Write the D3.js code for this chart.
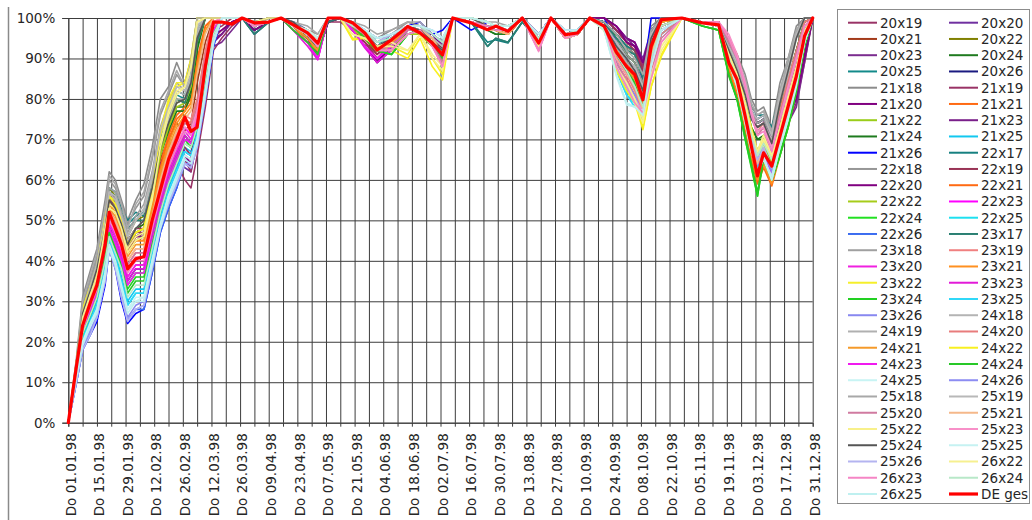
<!DOCTYPE html>
<html>
<head>
<meta charset="utf-8">
<script src="https://cdn.jsdelivr.net/npm/d3@7"></script>
<style>
  html, body { margin: 0; padding: 0; background: #fff; }
  svg { display: block; font-family: "DejaVu Sans", sans-serif; }
</style>
</head>
<body>
<svg id="chart" width="1032" height="520"></svg>
<script>
// Day offsets from 1 Jan 1998 at which the daily shares are sampled
const dayOffsets = [0,4,7,11,14,18,20,23,26,29,33,37,41,45,49,53,57,60,63,67,71,75,80,
  85,91,98,104,110,117,122,127,133,139,145,151,158,166,172,178,183,188,
  197,205,209,215,222,230,236,243,249,255,
  262,268,273,277,281,285,290,300,310,
  318,323,327,331,334,337,340,344,348,352,356,360,364];

// Grid cells (legend order)
const seriesNames = ["20x19","20x20","20x21","20x22","20x23","20x24","20x25","20x26",
  "21x18","21x19","21x20","21x21","21x22","21x23","21x24","21x25","21x26",
  "22x17","22x18","22x19","22x20","22x21","22x22","22x23","22x24","22x25","22x26",
  "23x17","23x18","23x19","23x20","23x21","23x22","23x23","23x24","23x25","23x26",
  "24x18","24x19","24x20","24x21","24x22","24x23","24x24","24x25","24x26",
  "25x18","25x19","25x20","25x21","25x22","25x23","25x24","25x25","25x26",
  "26x22","26x23","26x24","26x25"];

const seriesColors = ["#993366","#7030a0","#a33a1a","#808000","#7b2c8f","#1f7a1f","#138a8a","#1a1a80",
  "#8c8c8c","#993366","#800080","#ff6a13","#9acd1a","#7a1f8a","#1e7b1e","#12c8f0","#0000ff",
  "#168080","#969696","#993355","#800080","#ff6a13","#a6cc1a","#ff00ff","#22e022","#1ee0f0","#3a6cf0",
  "#2a7f72","#a0a0a0","#f08080","#f020e0","#ff9020","#f5ef2a","#e21ad8","#22d022","#30d8f8","#8888f0",
  "#b4b4b4","#b0b0b0","#e87c7c","#f59a2a","#f8f020","#f01aef","#28c828","#c8f4f4","#8c8cf2",
  "#a8a8a8","#b8b8b8","#d07aa0","#f5b88a","#f8f08a","#f890c8","#555555","#c6f2f2","#b4b4f0",
  "#f6f090","#f585c5","#b8e8c8","#bff0f0"];

// Share in percent for each grid cell at the sampled days
const seriesValues = [
 // 20x19
 [0,13,25,31,36,48,56,54,50,44,47,47,54,61,63,64,60,58,66,78,92,95,98,
  100,97,99,100,98,95,92,99,99,97,94,90,93,97,97,95,92,100,
  99,97,97,96,100,95,100,96,96,100,
  100,97,94,93,88,95,100,100,99,
  99,92,88,82,76,73,74,70,71,74,79,89,100],
 // 20x20
 [0,12,24,30,35,47,55,53,49,43,46,46,52,60,63,66,63,62,70,82,94,96,99,
  100,97,99,100,98,95,91,99,100,97,93,89,93,97,97,96,93,100,
  99,98,97,97,100,96,100,96,96,100,
  100,98,95,94,90,97,100,100,99,
  99,93,88,82,77,74,75,71,72,75,80,90,100],
 // 20x21
 [0,14,26,33,38,50,57,55,51,45,48,49,57,65,70,74,72,74,84,94,100,100,100,
  100,98,99,100,98,95,92,99,100,98,95,91,94,97,97,95,92,100,
  99,97,97,96,100,94,100,96,96,100,
  99,96,93,92,87,96,100,100,99,
  99,92,88,82,76,73,74,70,75,82,88,96,100],
 // 20x22
 [0,14,27,34,39,51,58,56,52,46,50,51,60,70,75,80,79,83,95,100,100,100,100,
  100,98,100,100,98,96,93,99,100,98,96,92,95,98,97,95,93,100,
  100,98,97,97,100,95,100,96,96,100,
  99,96,93,91,86,97,100,100,99,
  99,93,89,83,77,74,75,71,78,85,92,99,100],
 // 20x23
 [0,12,24,31,35,47,55,54,49,43,45,46,53,61,64,67,65,63,72,85,93,94,97,
  100,96,99,100,98,95,91,99,100,97,93,89,92,97,97,96,93,100,
  99,98,97,97,100,96,100,96,96,100,
  100,97,95,94,89,96,100,100,99,
  99,93,89,83,77,75,76,71,72,74,78,89,100],
 // 20x24
 [0,14,26,32,37,49,56,54,50,45,48,49,57,67,73,78,78,82,93,100,100,100,100,
  100,98,99,100,98,95,92,99,100,98,95,92,92,97,97,95,92,100,
  99,97,96,96,100,95,100,96,96,100,
  99,95,91,89,84,96,100,100,99,
  98,91,86,79,73,70,70,68,76,84,92,99,100],
 // 20x25
 [0,14,27,34,39,50,57,56,52,49,51,52,60,70,76,81,80,85,95,100,100,100,100,
  100,96,99,100,98,96,93,99,100,98,96,93,95,98,97,95,93,100,
  99,93,95,94,99,95,100,96,96,100,
  99,95,92,91,85,96,100,100,99,
  99,93,89,82,77,75,76,72,81,88,96,100,100],
 // 20x26
 [0,12,22,27,31,41,49,46,41,35,38,38,47,56,62,67,71,69,74,86,97,100,100,
  100,98,99,100,98,95,92,99,100,98,95,92,94,97,97,95,92,100,
  99,98,97,97,100,95,100,96,96,100,
  99,93,89,87,82,94,99,100,99,
  98,90,85,78,72,67,70,66,73,80,88,97,100],
 // 21x18
 [0,16,31,38,43,55,62,60,55,50,55,59,68,80,83,89,84,90,100,100,100,100,100,
  100,99,100,100,99,97,95,100,100,99,97,95,97,99,98,96,94,100,
  100,99,98,97,100,96,100,97,97,100,
  99,96,93,91,86,98,100,100,99,
  99,95,91,86,80,77,78,73,84,90,98,100,100],
 // 21x19
 [0,13,25,32,37,49,57,55,50,44,47,48,55,63,66,69,65,62,70,83,95,97,99,
  100,97,99,100,98,95,92,99,100,97,94,90,94,97,97,95,92,100,
  99,97,97,96,100,95,100,96,96,100,
  100,97,94,93,88,96,100,100,99,
  99,92,88,82,76,73,74,70,73,77,82,91,100],
 // 21x20
 [0,12,24,31,36,48,56,54,49,43,46,47,54,62,65,68,66,64,72,84,94,96,99,
  100,97,99,100,98,94,91,99,100,97,93,89,93,97,97,96,93,100,
  99,98,97,97,100,96,100,96,96,100,
  100,98,95,94,89,97,100,100,99,
  99,93,89,83,77,74,75,71,72,76,80,90,100],
 // 21x21
 [0,15,27,33,38,50,56,54,49,43,46,46,55,64,71,76,78,80,90,98,100,100,100,
  100,98,99,100,98,95,92,100,100,98,95,92,94,97,97,95,91,100,
  99,97,97,96,100,94,100,95,96,100,
  98,92,89,86,80,93,99,100,99,
  98,87,82,73,66,60,64,59,67,74,83,94,100],
 // 21x22
 [0,14,27,33,38,50,55,53,49,43,46,47,56,67,74,79,80,84,95,100,100,100,100,
  100,98,99,100,98,96,93,100,100,97,95,92,93,96,96,93,89,100,
  99,98,97,97,100,94,100,95,96,100,
  98,91,87,85,79,92,99,100,99,
  98,90,85,77,71,66,69,64,71,78,86,95,100],
 // 21x23
 [0,13,25,31,36,48,55,53,49,43,46,46,53,61,65,68,66,65,74,86,95,96,99,
  100,97,99,100,98,95,91,99,100,97,93,89.5,93,97,97,96,93,100,
  99,98,97,97,100,96,100,96,96,100,
  100,97,95,93,89,96,100,100,99,
  99,93,88,82,76,74,75,70,72,77,81,91,100],
 // 21x24
 [0,14,26,32,37,49,56,54,50,44,47,48,56,66,72,77,77,81,92,100,100,100,100,
  100,98,99,100,98,95,92,99,100,98,95,92,92,97,97,95,92,100,
  99,97,96,96,100,95,100,96,96,100,
  99,95,91,89,84,96,100,100,99,
  98,91,86,79,73,70,71,68,76,84,92,99,100],
 // 21x25
 [0,12,21,26,30,39,46,42,36,30,33,33,42,51,58,63,68,67,72,84,96,100,100,
  100,99,99,100,98,96,94,100,100,99,97,94,95,98,98,96,94,100,
  100,99,98,98,100,95,100,96,97,100,
  98,88,82,79,75,87,96,100,99,
  98,89,84,75,68,63,66,61,69,77,85,95,100],
 // 21x26
 [0,10,18,22,25,34,43,38,30,24.5,27,28,37,47,53,58,65,64,68,80,93,100,100,
  100,99,100,100,99,97,95,100,100,99,97,95,96,98,99,96,97,100,
  97,99,98,98,100,96,100,97,97,100,
  100,94,90,88,85,100,100,100,99,
  99,91,86,78,72,67,70,66,73,80,87,96,100],
 // 22x17
 [0,15,28,35,40,52,58,57,53,50,52,51,61,72,77,82,81,86,97,100,100,100,100,
  100,97,99,100,98,96,94,99,100,98,96,93,96,98,97,95,93,100,
  99,94,94.6,93.8,99,95,100,96,96,100,
  99,96,93,92,86,97,100,100,99,
  99,93,89,83,78,76,76,73,81,89,96,100,100],
 // 22x18
 [0,15,29,36,41,52,60,58,54,49,53,56,65,76,81,86,83,88,100,100,100,100,100,
  100,99,100,100,99,97,96,100,100,98,97,95,96,99,98,95,93,100,
  100,99,98,98,100,95,100,97,97,100,
  98,95,91,89,84,96,100,100,99,
  99,93,90,84,78,76,77,72,82,89,97,100,100],
 // 22x19
 [0,13,26,32,37,49,57,55,50,45,48,48,56,64,68,71,68,66,76,87,97,98,100,
  100,98,99,100,98,95,92,99,100,97,94,91,94,97,97,95,92,100,
  99,97,97,96,100,95,100,96,96,100,
  100,97,94,92,87,96,100,100,99,
  99,92,88,82,76,73,74,70,74,79,84,93,100],
 // 22x20
 [0,13,25,31,36,48,56,54,49,43,46,47,54,63,66,70,67,66,75,86,96,97,99,
  100,97,99,100,98,95,91,99,100,97,93,89,93,97,97,96,93,100,
  99,98,97,97,100,96,100,96,96,100,
  100,98,94,93,89,96,100,100,99,
  99,93,88,82,76,74,75,70,73,77,82,91,100],
 // 22x21
 [0,15,27,33,37,49,55,53,48,42,45,45,54,63,70,75,77,79,89,98,100,100,100,
  100,98,99,100,98,95,92,100,100,98,95,92,94,97,97,95,91,100,
  99,97,97,96,100,94,100,95,96,100,
  98,92,88,86,80,93,99,100,99,
  98,87,81,72,65,59,63,58.5,66,73,82,93,100],
 // 22x22
 [0,14,26,32,37,49,54,52,48,42,45,46,55,66,73,78,79,83,94,100,100,100,100,
  100,98,99,100,98,96,93,100,100,97,95,92,93,96,96,93,89,100,
  99,98,97,97,100,94,100,95,96,100,
  98,91,87,84,78,91,99,100,99,
  98,90,85,77,70,65,68,63,70,78,85,95,100],
 // 22x23
 [0,13,24,29,33,43,50,46,42,36,39,39,48,56,63,68,73,71,76,88,98,100,100,
  100,98,99,100,97,94,89.7,100,100,97,93,90,93,97,97,94,90,100,
  99,98,97,97,100,93,100,95,96,100,
  98,91,87,84,79,91,98,100,99,
  98,89,84,76,69,63,67,62,70,77,85,95,100],
 // 22x24
 [0,13,23,28,32,42,48,44,40,34,37,37,46,54,61,66,71,69,74,86,97,100,100,
  100,98,99,100,97,94,91,100,100,98,95,92,91,96,97,94,90,100,
  99,98,97,97,100,94,100,95,96,100,
  98,91,87,84,79,91,98,100,98,
  97,86,80,70,63,56,65,59.5,66,73,82,93,100],
 // 22x25
 [0,12,21,25,29,38,45,41,35,29,32,32,41,50,57,62,67,66,71,83,95,100,100,
  100,99,99,100,98,96,94,100,100,99,97,94,95,98,98,96,94,100,
  100,99,98,98,100,95,100,96,97,100,
  98,87,81,79,75,87,96,100,99,
  98,89,84,75,68,62,66,60,68,76,84,94,100],
 // 22x26
 [0,10,18,22,26,35,43,39,31,25,28,28,37,47,53,58,64,63,68,80,93,100,100,
  100,99,99,100,98,96,94,100,100,99,96,93,95,98,98,96,94,100,
  100,99,98,98,100,95,100,96,97,100,
  98,90,86,84,79,92,98,100,99,
  98,89,84,76,70,65,68,63,70,78,86,95,100],
 // 23x17
 [0,14,27,34,38,50,56,55,51,48,50,50,59,69,75,80,79,84,94,100,100,100,100,
  100,96,99,100,98,95,93,99,100,98,95,93,95,97,97,94,92,100,
  99,93,95,94,99,94,100,96,96,100,
  99,95,92,91,85,96,100,100,99,
  99,93,88,82,76,74,75,71,80,88,96,100,100],
 // 23x18
 [0,14,28,35,40,50,58,57,52,47,51,54,62,73,79,84,82,86,98,100,100,100,100,
  100,99,100,100,98,97,95,100,100,98,97,94,96,98,98,95,93,100,
  100,99,98,97,100,95,100,96,97,100,
  98,94,90,88,83,96,100,100,99,
  98,93,89,83,77,74,75,71,81,88,96,100,100],
 // 23x19
 [0,14,25,31,35,46,53,50,46,40,43,43,52,60,67,72,76,75,80,92,100,100,100,
  100,98,99,100,98,96,93,100,100,98,96,92,94,98,97,94,91,100,
  99,98,97,97,100,93,100,95,96,100,
  98,90,86,82,77,88,97,100,99,
  99,95,91,84,77,72,74,69,77,85,92,99,100],
 // 23x20
 [0,13,24,29,33,43,49,46,42,36,39,39,47,55,62,67,72,70,75,87,97,100,100,
  100,98,99,100,97,94,90,100,100,97,93,90,93,97,97,94,90,100,
  99,98,97,97,100,93,100,95,96,100,
  98,91,87,84,79,91,98,100,99,
  98,89,84,76,69,63,67,62,70,77,85,95,100],
 // 23x21
 [0,14,26,32,37,48,54,52,47,42,45,45,53,62,69,74,77,79,88,97,100,100,100,
  100,98,99,100,98,94,92,100,100,98,95,92,94,97,97,95,91,100,
  99,97,97,96,100,94,100,95,96,100,
  98,92,88,85,79,92,99,100,99,
  98,88,82,73,66,60,64,59,67,74,83,94,100],
 // 23x22
 [0,15,28,34,39,51,56,55,50,44,47,48,58,72,80,84,84,90,100,100,100,100,100,
  100,99,100,100,98,97,95,100,100,95,95,93,93,91,96,90,86,100,
  100,99,98,98,100,93,100,95,96,100,
  97,88,83,80,73,83,91,100,99,
  98,91,87,79,73,67,71,66,73,80,87,96,100],
 // 23x23
 [0,13,23,28,32,42,48,45,41,35,38,38,46,54,61,66,71,69,74,86,97,100,100,
  100,98,99,100,97,93,89.7,100,100,97,92.6,89,92,96,97,94,90,100,
  99,98,97,97,100,93,100,95,96,100,
  98,90,86,83,78,90,98,100,99,
  98,89,84,75,68,62,66,61,69,76,84,94,100],
 // 23x24
 [0,13,22,27,31,41,47,43,39,33,36,36,45,53,60,65,70,68,73,85,96,100,100,
  100,98,99,100,97,94,91,100,100,98,95,92,91,96,97,94,90,100,
  99,98,97,97,100,94,100,95,96,100,
  98,91,87,84,78,90,98,100,98,
  97,85.6,79.8,70,63.4,56,65.8,60,66,73,82,93,100],
 // 23x25
 [0,12,20,25,29,38,45,40,35,29,32,32,41,50,57,62,67,66,71,83,95,100,100,
  100,99,99,100,98,96,94,100,100,99,97,94,95,98,98,96,94,100,
  100,99,98,98,100,95,100,96,97,100,
  97,87,81,78,76,88,97,100,99,
  98,89,84,75,68,63,66,60,68,76,84,94,100],
 // 23x26
 [0,11,19,23,27,36,44,40,32,26,29,30,39,49,55,60,65,64,69,81,94,100,100,
  100,99,99,100,98,96,94,100,100,99,96,93,95,98,98,96,94,100,
  100,99,98,98,100,95,100,96,97,100,
  98,89,84,81,76,89,97,100,99,
  98,89,84,76,69,64,67,62,70,78,86,95,100],
 // 24x18
 [0,14,27,34,39,49,57,55,50,46,50,52,60,71,77,82,81,85,97,100,100,100,100,
  100,99,100,100,99,96,95,100,100,98,96,94,96,98,98,94,92,100,
  100,98,98,97,100,95,100,96,96,100,
  98,94,90,88,82,95,100,100,99,
  98,92,88,82,76,73,74,70,80,87,96,100,100],
 // 24x19
 [0,13,26,33,38,48,56,54,49,45,48,50,58,69,75,80,80,84,96,100,100,100,100,
  100,98,100,100,98,96,94,100,100,98,96,93,95,98,97,94,92,100,
  100,98,97,97,100,94,100,96,96,100,
  98,93,89,87,81,95,100,100,99,
  98,92,88,81,75,72,73,69,79,86,95,100,100],
 // 24x20
 [0,14,25,31,35,46,52,50,45,39,42,42,51,59,66,71,75,74,79,91,100,100,100,
  100,98,99,100,98,96,93,100,100,98,96,92,94,97,97,94,90,100,
  99,98,97,97,100,92,100,95,96,100,
  98,89,85,81,77,87,96,100,99,
  99,95,90,83,76,71,73,68,76,84,91,99,100],
 // 24x21
 [0,14,26,32,36,47,53,51,47,41,44,44,52,61,68,73,76,78,87,97,100,100,100,
  100,98,99,100,98,95,92,100,100,98,95,92,94,97,97,95,91,100,
  99,97,97,96,100,94,100,95,96,100,
  98,91,88,85,79,92,99,100,99,
  98,88,83,74,67,61,64,60,68,75,84,95,100],
 // 24x22
 [0,15,28,34,38,50,56,54,50,44,47,48,57,71,79,83,84,89,100,100,100,100,100,
  100,99,100,100,98,97,95,100,100,94.6,95,93,92,90,95,88,84.7,100,
  100,99,98,98,100,93,100,95,96,100,
  97,87,82,79,72.4,83,90.5,100,99,
  98,91,86,78,72,67,70,65,72,80,87,96,100],
 // 24x23
 [0,12,23,28,32,42,48,44,40,34,37,37,45,53,60,65,70,69,74,86,97,100,100,
  100,98,99,100,97,94,90,100,100,97,93,90,93,97,97,94,90,100,
  99,98,97,97,100,93,100,95,96,100,
  98,90,86,83,78,90,98,100,99,
  98,89,84,75,68,62,66,61,69,76,84,94,100],
 // 24x24
 [0,12,22,27,31,41,47,43,38,32,35,35,44,52,59,64,69,68,73,85,96,100,100,
  100,98,99,100,97,94,91,100,100,98,95,92,91,96,97,94,90,100,
  99,98,97,97,100,94,100,95,96,100,
  98,91,87,83,78,90,98,100,98,
  97,86,80,71,64,57,65,60,67,74,83,94,100],
 // 24x25
 [0,11,20,25,28,37,44,40,34,28,31,31,40,49,56,61,66,65,70,82,95,100,100,
  100,99,99,100,98,97,95,100,100,99,97,95,96,98,98,97,95,100,
  100,99,98,98,100,96,100,97,97,100,
  97,86,79,78,76,88,97,100,99,
  98,89,84,75,68,62,66,60,68,75,84,94,100],
 // 24x26
 [0,11,19,23,26,35,43,39,31,25.5,28,29,38,48,54,59,64,64,69,81,94,100,100,
  100,99,99,100,98,96,94,100,100,99,96,93,95,98,98,96,94,100,
  100,99,98,98,100,95,100,96,97,100,
  98,89,84,81,76,89,97,100,99,
  98,89,84,76,69,64,67,62,70,78,86,95,100],
 // 25x18
 [0,15,30,37,42,53,61,59,54,48,54,57,66,77,82,87,83,89,100,100,100,100,100,
  100,99,100,100,99,98,96,100,100,99,98,96,97,99,99,96,94,100,
  100,99,99,98,100,96,100,97,97,100,
  99,96,92,90,86,97,100,100,99,
  99,94,90,85,79,76,77,72,82,90,97,100,100],
 // 25x19
 [0,13,27,34,39,50,57,56,51,46,50,53,61,72,78,83,82,86,98,100,100,100,100,
  100,99,100,100,98,97,95,100,100,98,97,94,96,98,98,95,93,100,
  100,98,98,97,100,95,100,96,97,100,
  98,94,90,88,83,96,100,100,99,
  98,93,89,83,77,75,76,71,81,88,96,100,100],
 // 25x20
 [0,13,24,30,34,45,51,49,45,39,42,42,50,58,65,70,74,73,78,90,99,100,100,
  100,98,99,100,98,96,93,100,100,98,96,92,93,97,97,93,89,100,
  99,98,97,97,100,92,100,95,96,100,
  98,89,84,80,76.4,86,95,100,99,
  99,94,90,83,76,71,73,68,76,83,91,98,100],
 // 25x21
 [0,14,25,31,35,46,52,50,46,40,43,43,51,60,67,72,75,77,86,96,100,100,100,
  100,98,99,100,98,96,93,100,100,98,96,93,95,98,97,95,91,100,
  99,97,97,96,100,94,100,95,96,100,
  97,90,86,83,77,91,98,100,99,
  99,90,85,77,70,64,68,63,70,77,85,95,100],
 // 25x22
 [0,14,27,33,37,49,54,53,49,43,46,47,56,69,77,82,83,88,99,100,100,100,100,
  100,99,100,100,98,97,95,100,100,96,95,93,93,92,96,90,87,100,
  100,99,98,98,100,93,100,95,96,100,
  97,88,83,79,74,85,92,100,99,
  98,90,86,78,72,66,70,65,72,80,87,96,100],
 // 25x23
 [0,13,24,30,34,45,51,48,44,38,41,41,49,57,64,69,73,72,77,89,99,100,100,
  100,98,99,100,98,96,93,100,100,98,96,92,92,96,97,93,88,100,
  99,98,97,97,100,91.7,100,95,96,100,
  98,88,84,80,77,86,94,100,99,
  99,96,91,84,77,72,73,68,75,83,90,98,100],
 // 25x24
 [0,14,27,33,38,48,55,53,49,44,48,50,58,68,74,79,80,84,95,100,100,100,100,
  100,99,100,100,99,96,94,100,100,98,96,93,95,98,97,94,92,100,
  100,98,97,97,100,94,100,96,96,100,
  98,93,90,87,82,95,100,100,99,
  98,92,87,81,75,73,74,69,79,87,95,100,100],
 // 25x25
 [0,11,20,24,28,37,44,39,33,28,30,31,40,49,56,61,66,65,70,82,94,100,100,
  100,99,99,100,98,97,95,100,100,99,97,95,96,98,98,97,95,100,
  100,99,98,98,100,96,100,97,97,100,
  97,85.6,78.5,78,77,89,97,100,99,
  98,89,83,74,67,62,65,60,68,75,83,94,100],
 // 25x26
 [0,10,18,22,26,35,43,38,31,25,28,29,38,48,54,59,64,63,68,80,94,100,100,
  100,99,99,100,98,97,95,100,100,99,97,94,96,98,98,97,95,100,
  100,99,98,98,100,96,100,97,97,100,
  98,88,83,80,76,89,97,100,99,
  98,90,85,77,70,65,68,63,70,78,86,95,100],
 // 26x22
 [0,14,26,32,36,48,53,52,48,42,45,46,55,68,76,81,83,88,99,100,100,100,100,
  100,99,100,100,98,97,95,100,100,96,95,93,94,92,96,91,88,100,
  100,99,98,98,100,94,100,95,96,100,
  97,88,84,80,75,86,93,100,99,
  98,91,86,79,72,67,71,66,73,81,88,97,100],
 // 26x23
 [0,13,23,29,33,44,50,47,43,37,40,40,48,56,63,68,72,71,76,88,98,100,100,
  100,98,99,100,98,96,93,100,100,98,96,92,92,96,97,93,88,100,
  99,98,97,97,100,92,100,95,96,100,
  98,88,83,79,76.5,85,94,100,99,
  99,95,90,83,76,71,72,67,75,82,90,98,100],
 // 26x24
 [0,13,22,27,31,40,46,42,38,31,34,34,43,52,59,64,69,68,73,85,96,100,100,
  100,99,99,100,98,96,94,100,100,98,97,94,95,98,98,96,94,100,
  100,99,98,98,100,95,100,96,97,100,
  98,91,87,83,78,90,98,100,99,
  98,90,85,77,71,66,69,65,70,77,85,95,100],
 // 26x25
 [0,11,19,24,27,36,43,39,33,27,30,30,39,48,55,60,65,64,69,81,94,100,100,
  100,99,99,100,98,97,95,100,100,99,97,95,96,98,98,97,95,100,
  100,99,98,98,100,96,100,97,97,100,
  97,86,79,78,76,88,97,100,99,
  98,89,83,74,67,62,65,61,69,76,84,94,100]
];

// Germany overall
const totalName = "DE ges";
const totalColor = "#ff0000";
const totalValues = [0,14,24,30,34,44,52,48,44,38,40.5,41,50,57.5,65,70,75.5,72,73,88,99,99,98.5,
  100,98.8,99,100,98.3,96.3,93.8,100,100,98.8,96.3,92.1,94.6,97.9,96.3,93.8,90.9,100,
  98.8,97.1,98,96.7,100,93.8,100,95.9,96.3,100,
  98,91.5,88,86,79.8,93,99.6,100,98.8,
  98.3,88.9,84.8,75.7,68.3,61,66.7,63.4,70.8,78.2,85.6,95.5,100];

const yTicks = [0,10,20,30,40,50,60,70,80,90,100];

// ---- layout ----
const svg = d3.select("#chart");
const fontFamily = "'DejaVu Sans', sans-serif";
const fontSize = 13.5;
const textColor = "#262626";
const plot = { left: 68.3, right: 812.7, top: 18, bottom: 422.7 };
const yearStart = new Date(Date.UTC(1998, 0, 1));
const yearEnd = new Date(Date.UTC(1998, 11, 31));
const dates = dayOffsets.map(d => d3.utcDay.offset(yearStart, d));

const x = d3.scaleUtc().domain([yearStart, yearEnd]).range([plot.left, plot.right]);
const y = d3.scaleLinear().domain([0, 100]).range([plot.bottom, plot.top]);

const deLocale = d3.timeFormatLocale({
  dateTime: "%A, %e. %B %Y, %X", date: "%d.%m.%Y", time: "%H:%M:%S", periods: ["AM", "PM"],
  days: ["Sonntag","Montag","Dienstag","Mittwoch","Donnerstag","Freitag","Samstag"],
  shortDays: ["So","Mo","Di","Mi","Do","Fr","Sa"],
  months: ["Januar","Februar","März","April","Mai","Juni","Juli","August","September","Oktober","November","Dezember"],
  shortMonths: ["Jan","Feb","Mrz","Apr","Mai","Jun","Jul","Aug","Sep","Okt","Nov","Dez"]
});
const fmtDay = deLocale.utcFormat("%a %d.%m.%y");
const weeks = d3.utcThursday.range(yearStart, d3.utcDay.offset(yearEnd, 1));

// outer frame edge on the left
svg.append("line").attr("x1", 8.5).attr("x2", 8.5).attr("y1", 7).attr("y2", 520)
  .attr("stroke", "#8a8a8a").attr("stroke-width", 1.5);

// gridlines
const gridColor = "#3c3c3c";
const gx = svg.append("g").attr("transform", `translate(0,${plot.top})`)
  .call(d3.axisBottom(x).tickValues(weeks).tickSize(plot.bottom - plot.top).tickFormat(""));
gx.select(".domain").remove();
gx.selectAll("line").attr("stroke", gridColor).attr("stroke-width", 1);

const gy = svg.append("g").attr("transform", `translate(${plot.left},0)`)
  .call(d3.axisLeft(y).tickValues(yTicks).tickSize(-(plot.right - plot.left)).tickFormat(""));
gy.select(".domain").remove();
gy.selectAll("line").attr("stroke", gridColor).attr("stroke-width", 1);

// axes
const yAxis = svg.append("g").attr("transform", `translate(${plot.left},0)`)
  .call(d3.axisLeft(y).tickValues(yTicks).tickSize(6).tickPadding(7).tickFormat(d => d + "%"));
yAxis.select(".domain").attr("stroke", gridColor);
yAxis.selectAll("line").attr("stroke", gridColor);
yAxis.selectAll("text").attr("font-size", fontSize).attr("fill", textColor)
  .attr("font-family", fontFamily);

const xAxis = svg.append("g").attr("transform", `translate(0,${plot.bottom})`)
  .call(d3.axisBottom(x).tickValues(weeks).tickSize(4)
    .tickFormat((d, i) => i % 2 === 0 ? fmtDay(d) : ""));
xAxis.select(".domain").attr("stroke", gridColor);
xAxis.selectAll("line").attr("stroke", gridColor);
xAxis.selectAll("text")
  .attr("transform", "rotate(-90)")
  .attr("text-anchor", "end")
  .attr("x", -10.5).attr("y", 2).attr("dy", "0.35em")
  .attr("font-size", fontSize).attr("fill", textColor)
  .attr("font-family", fontFamily);

// series lines
const line = d3.line()
  .x((v, i) => x(dates[i]))
  .y(v => y(v));

const lines = svg.append("g").attr("fill", "none")
  .attr("stroke-linejoin", "round").attr("stroke-linecap", "round");
seriesValues.forEach((vals, k) => {
  if (vals.length !== dates.length) console.warn(seriesNames[k], vals.length);
  lines.append("path").attr("d", line(vals))
    .attr("stroke", seriesColors[k]).attr("stroke-width", 1.6);
});
lines.append("path").attr("d", line(totalValues))
  .attr("stroke", totalColor).attr("stroke-width", 3.2);

// legend
const legendItems = seriesNames.map((n, i) => ({ name: n, color: seriesColors[i], w: 2 }))
  .concat([{ name: totalName, color: totalColor, w: 3.2 }]);
const lg = svg.append("g");
lg.append("rect").attr("x", 837.5).attr("y", 9.5).attr("width", 192).attr("height", 494)
  .attr("fill", "#fff").attr("stroke", "#8c8c8c").attr("stroke-width", 1);
const rowY = d3.scaleLinear().domain([0, 29]).range([22.7, 494]);
const colX = [848, 949];
legendItems.forEach((it, i) => {
  const cx = colX[i % 2], cy = rowY(Math.floor(i / 2));
  lg.append("line").attr("x1", cx).attr("x2", cx + 29).attr("y1", cy).attr("y2", cy)
    .attr("stroke", it.color).attr("stroke-width", it.w);
  lg.append("text").attr("x", cx + 32).attr("y", cy).attr("dy", "0.36em")
    .attr("font-size", fontSize).attr("font-family", fontFamily)
    .attr("fill", textColor).text(it.name);
});
</script>
</body>
</html>
